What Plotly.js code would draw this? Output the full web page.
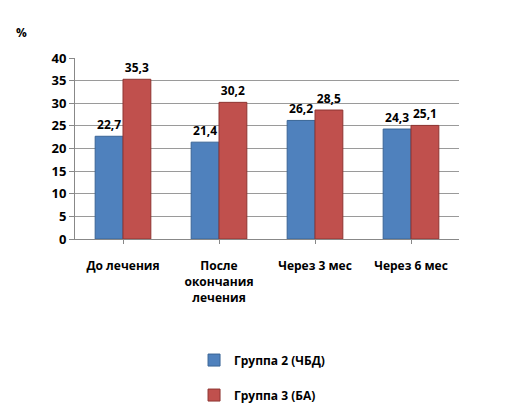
<!DOCTYPE html>
<html><head><meta charset="utf-8">
<script src="https://cdn.plot.ly/plotly-3.0.1.min.js"></script>
<style>html,body{margin:0;padding:0;background:#fff}#chart{width:514px;height:420px}</style>
</head><body><div id="chart"></div>
<script>
const categories = ["До лечения", "После<br>окончания<br>лечения", "Через 3 мес", "Через 6 мес"];
const group2 = [22.7, 21.4, 26.2, 24.3];
const group3 = [35.3, 30.2, 28.5, 25.1];
const seriesNames = ["Группа 2 (ЧБД)", "Группа 3 (БА)"];
const yTicks = [0, 5, 10, 15, 20, 25, 30, 35, 40];

const fmt = v => v.toFixed(1).replace('.', ',');
const font = {family: "Open Sans, Liberation Sans, sans-serif", size: 12, color: "#000"};

const traces = [
  {type: "bar", x: categories, y: group2, name: seriesNames[0], legendgroup: "g2",
   marker: {color: "#4F81BD", line: {color: "#3A6596", width: 1}},
   text: group2.map(fmt), textposition: "outside", cliponaxis: false,
   textfont: {family: font.family, size: 12, color: "#000", weight: "bold"}},
  {type: "bar", x: categories, y: group3, name: seriesNames[1], legendgroup: "g3",
   marker: {color: "#C0504D", line: {color: "#8E3532", width: 1}},
   text: group3.map(fmt), textposition: "outside", cliponaxis: false,
   textfont: {family: font.family, size: 12, color: "#000", weight: "bold"}}
];

const layout = {
  width: 514, height: 420,
  margin: {l: 75, r: 55, t: 58, b: 180},
  paper_bgcolor: "#fff", plot_bgcolor: "#fff",
  font: font,
  barmode: "group", bargap: 0.42, bargroupgap: 0,
  showlegend: true,
  legend: {x: 0.31, y: -0.58, xanchor: "left", yanchor: "top", orientation: "v",
           tracegroupgap: 16, itemwidth: 30,
           font: {family: font.family, size: 12, color: "#000", weight: "bold"}},
  xaxis: {tickfont: {family: font.family, size: 12, color: "#000", weight: "bold"},
          showline: true, linecolor: "#888", ticks: "outside", ticklen: 4, tickcolor: "#888",
          tickangle: 0, showgrid: false, ticklabelstandoff: 12},
  yaxis: {range: [0, 40], tickvals: yTicks, ticktext: yTicks.map(String),
          tickfont: {family: font.family, size: 13, color: "#000", weight: "bold"},
          showline: true, linecolor: "#888", ticks: "outside", ticklen: 5, tickcolor: "#888",
          showgrid: true, gridcolor: "#9a9a9a", gridwidth: 1, zeroline: false},
  annotations: [
    {text: "%", xref: "paper", yref: "paper", x: -0.16, y: 1.2, showarrow: false,
     font: {family: font.family, size: 12, color: "#000", weight: "bold"}}
  ]
};

Plotly.newPlot("chart", traces, layout, {displayModeBar: false, staticPlot: true});
</script></body></html>
